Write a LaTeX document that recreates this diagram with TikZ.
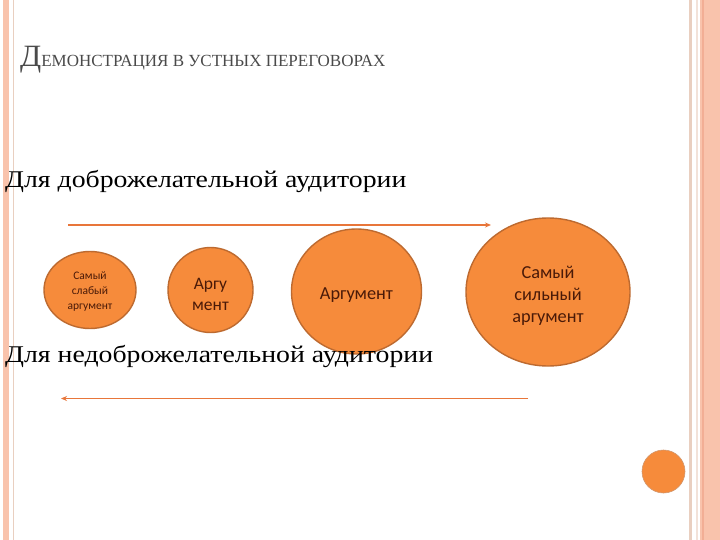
\documentclass[tikz,border=0pt]{standalone}
\usepackage{fontspec}
\setmainfont{Liberation Serif}
\newfontfamily\calib{Carlito}
\usetikzlibrary{arrows.meta,shapes.geometric}
\definecolor{stripe}{HTML}{F9C3AC}
\definecolor{stripedark}{HTML}{F2AE95}
\definecolor{thinline}{HTML}{E9CFC0}
\definecolor{orfill}{HTML}{F68B3B}
\definecolor{orbord}{HTML}{BD6A30}
\definecolor{arrowc}{HTML}{E8763A}
\definecolor{titlec}{HTML}{4A4A4A}
\definecolor{argtext}{HTML}{4A1A08}
\tikzset{
  arg/.style={ellipse, fill=orfill, draw=orbord, line width=1.4pt, inner sep=0pt},
  argtxt/.style={inner sep=0pt, text=argtext, align=center},
  heading/.style={anchor=base west, inner sep=0pt, font=\fontsize{24}{28}\selectfont},
  flow/.style={draw=arrowc, -{Stealth[length=6pt,width=5pt]}},
}
\begin{document}
\begin{tikzpicture}[x=1pt,y=-1pt]
\useasboundingbox (0,0) rectangle (720,540);
\fill[white] (0,0) rectangle (720,540);
% left border
\fill[stripe] (3,0) rectangle (9,540);
\fill[thinline] (12.5,0) rectangle (14,540);
% right border
\fill[thinline] (688.5,0) rectangle (691.5,540);
\fill[thinline!60] (696,0) rectangle (698,540);
\fill[stripe] (700,0) rectangle (720,540);
\fill[stripedark] (701.5,0) rectangle (704,540);
% title
\node[anchor=base west, inner sep=0pt, text=titlec] (title) at (20,67)
  {\fontsize{31}{32}\selectfont Д\fontsize{17}{20}\selectfont ЕМОНСТРАЦИЯ В УСТНЫХ ПЕРЕГОВОРАХ};
% headings
\node[heading] (h1) at (5,188) {\scalebox{1.157}[1]{Для доброжелательной аудитории}};
% arrows
\coordinate (a1s) at (68,225);
\coordinate (a1e) at (491,225);
\draw[flow, line width=1.8pt] (a1s) -- (a1e);
% circles
\node[arg, minimum width=92pt, minimum height=77pt] (c1) at (90,290) {};
\node[argtxt, font=\calib\fontsize{11.5}{15}\selectfont] (t1) at ([yshift=-2pt]c1.center) {Самый\\слабый\\аргумент};
\node[arg, minimum width=85pt, minimum height=85pt] (c2) at (210.5,290) {};
\node[argtxt, font=\calib\fontsize{17.5}{21}\selectfont] (t2) at ([yshift=-4pt]c2.center) {Аргу\\мент};
\node[arg, minimum width=130pt, minimum height=125pt] (c3) at (356.5,291.5) {};
\node[argtxt, font=\calib\fontsize{18.3}{22}\selectfont] (t3) at ([yshift=-3.5pt]c3.center) {Аргумент};
\node[arg, minimum width=164pt, minimum height=148pt] (c4) at (548,292) {};
\node[argtxt, font=\calib\fontsize{18.3}{22}\selectfont] (t4) at ([yshift=-4pt]c4.center) {Самый\\сильный\\аргумент};
\node[heading] (h2) at (5,362) {\scalebox{1.157}[1]{Для недоброжелательной аудитории}};
\coordinate (a2s) at (528,398.5);
\coordinate (a2e) at (61,398.5);
\draw[flow, line width=1pt] (a2s) -- (a2e);
% small circle
\node[circle, fill=orfill, draw=orbord!70, line width=0.6pt, minimum size=43pt, inner sep=0pt] (dot) at (663.5,471.5) {};
\end{tikzpicture}
\end{document}
